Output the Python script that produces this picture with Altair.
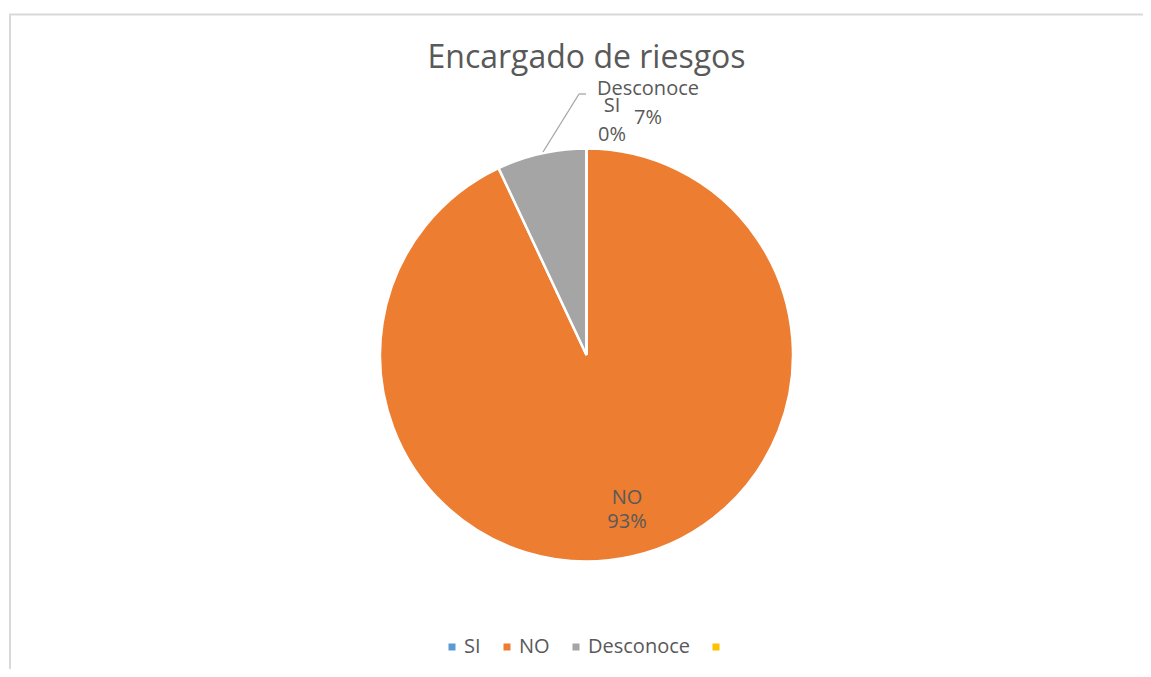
import altair as alt
import pandas as pd

# ---- data ----
categories = ["SI", "NO", "Desconoce", ""]
values = [0, 93, 7, 0]
colors = ["#5B9BD5", "#ED7D31", "#A5A5A5", "#FFC000"]
chart_title = "Encargado de riesgos"

total = sum(values)
df = pd.DataFrame({
    "cat": categories,
    "val": values,
    "idx": list(range(len(categories))),
    "label": [f"{c}\n{round(v * 100 / total)}%" for c, v in zip(categories, values)],
})

W, H = 1135, 661
CX, CY, R = 578.5, 347, 206.5
TEXT = "#595959"
FONT = "Open Sans"
BORDER = "#D9D9D9"

base = alt.Chart(df).encode(
    theta=alt.Theta("val:Q", stack=True),
    order=alt.Order("idx:Q", sort="ascending"),
)

pie = base.mark_arc(outerRadius=R, stroke="white", strokeWidth=2.5).encode(
    color=alt.Color(
        "cat:N",
        scale=alt.Scale(domain=categories, range=colors),
        legend=alt.Legend(
            orient="none", legendX=434, legendY=629, direction="horizontal",
            columns=4, title=None, symbolType="square", symbolSize=49,
            symbolStrokeWidth=0, labelFont=FONT, labelFontSize=20,
            labelColor=TEXT, labelOffset=2, columnPadding=16, padding=0,
        ),
    ),
    x=alt.value(CX),
    y=alt.value(CY),
)


def slice_label(cat, radius, dx, dy, line_height):
    return base.mark_text(
        radius=radius, dx=dx, dy=dy, font=FONT, fontSize=20, color=TEXT,
        align="center", baseline="alphabetic", lineBreak="\n",
        lineHeight=line_height,
    ).encode(
        text=alt.condition(alt.datum.cat == cat, alt.Text("label:N"), alt.value("")),
        x=alt.value(CX),
        y=alt.value(CY),
    )


lab_no = slice_label("NO", 152.7, 7.2, 0, 24)
lab_des = slice_label("Desconoce", 266.4, 119.6, 0, 29)
lab_si = slice_label("SI", 243, 25.5, 0, 29)

one = pd.DataFrame({"k": [0]})
border_left = alt.Chart(one).mark_rule(color=BORDER, strokeWidth=2).encode(
    x=alt.value(2), y=alt.value(6.5), y2=alt.value(H)
)
border_top = alt.Chart(one).mark_rule(color=BORDER, strokeWidth=2).encode(
    x=alt.value(1), x2=alt.value(W), y=alt.value(6.5)
)
leader1 = alt.Chart(one).mark_rule(color="#A6A6A6", strokeWidth=1.3).encode(
    x=alt.value(535), y=alt.value(144), x2=alt.value(571), y2=alt.value(86)
)
leader2 = alt.Chart(one).mark_rule(color="#A6A6A6", strokeWidth=1.3).encode(
    x=alt.value(571), y=alt.value(86), x2=alt.value(578), y2=alt.value(86)
)

chart = alt.layer(
    border_left, border_top, pie, leader1, leader2, lab_no, lab_des, lab_si
).properties(
    width=W, height=H,
    title=alt.TitleParams(
        chart_title, font=FONT, fontSize=32, fontWeight="normal", color=TEXT,
        anchor="middle", frame="group", offset=0, baseline="alphabetic",
        dy=92, dx=11,
    ),
    autosize=alt.AutoSizeParams(type="none"),
    padding=0,
    background="white",
).configure_view(stroke=None)

chart.save("out.html", embed_options={"renderer": "svg", "actions": False})
